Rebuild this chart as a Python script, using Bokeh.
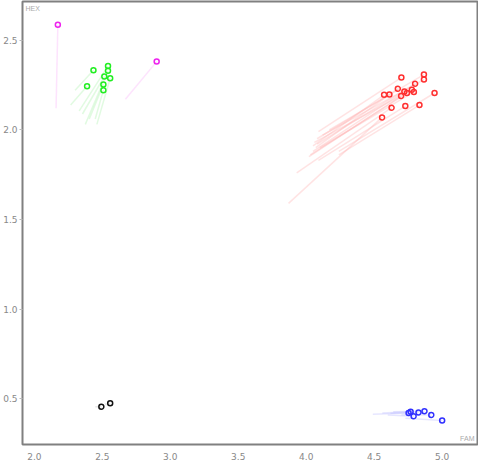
from bokeh.plotting import figure
from bokeh.models import Range1d, FixedTicker, Label, ColumnDataSource, NumeralTickFormatter
from bokeh.embed import file_html
from bokeh.resources import INLINE

# --- data (FAM, HEX) : current point and trail start ---
red_x = [4.700, 4.866, 4.866, 4.801, 4.674, 4.722, 4.741, 4.777, 4.792, 4.698, 4.573, 4.612, 4.944, 4.628, 4.729, 4.833, 4.558]
red_y = [2.291, 2.308, 2.280, 2.257, 2.229, 2.214, 2.205, 2.223, 2.211, 2.188, 2.195, 2.197, 2.205, 2.123, 2.132, 2.138, 2.069]
red_x0 = [4.09, 4.17, 4.12, 4.08, 4.07, 4.05, 4.03, 4.06, 4.10, 4.02, 4.05, 4.08, 4.24, 3.93, 4.09, 4.24, 3.87]
red_y0 = [1.99, 2.00, 1.97, 1.92, 1.90, 1.88, 1.86, 1.93, 1.90, 1.85, 1.91, 1.95, 1.88, 1.76, 1.83, 1.86, 1.59]

green_x = [2.435, 2.388, 2.542, 2.542, 2.515, 2.558, 2.508, 2.508]
green_y = [2.332, 2.242, 2.355, 2.329, 2.297, 2.287, 2.253, 2.221]
green_x0 = [2.30, 2.267, 2.33, 2.375, 2.354, 2.46, 2.404, 2.448]
green_y0 = [2.22, 2.138, 2.105, 2.03, 2.088, 2.03, 2.06, 2.06]

blue_x = [4.753, 4.768, 4.790, 4.826, 4.870, 4.920, 5.000]
blue_y = [0.421, 0.428, 0.404, 0.425, 0.432, 0.411, 0.380]
blue_x0 = [4.49, 4.56, 4.60, 4.62, 4.64, 4.70, 4.73]
blue_y0 = [0.415, 0.422, 0.410, 0.420, 0.428, 0.412, 0.392]

magenta_x = [2.173, 2.900]
magenta_y = [2.585, 2.380]
magenta_x0 = [2.16, 2.67]
magenta_y0 = [2.12, 2.17]

black_x = [2.493, 2.558]
black_y = [0.457, 0.476]
black_x0 = [2.448, 2.52]
black_y0 = [0.457, 0.470]

x_ticks = [2.0, 2.5, 3.0, 3.5, 4.0, 4.5, 5.0]
y_ticks = [0.5, 1.0, 1.5, 2.0, 2.5]
x_label = "FAM"
y_label = "HEX"

groups = [
    (red_x, red_y, red_x0, red_y0, "#ff3030", "#ffb0b0"),
    (green_x, green_y, green_x0, green_y0, "#22ee22", "#aaf0aa"),
    (blue_x, blue_y, blue_x0, blue_y0, "#3030ff", "#b8b8ff"),
    (magenta_x, magenta_y, magenta_x0, magenta_y0, "#ee22ee", "#f8b0f8"),
    (black_x, black_y, black_x0, black_y0, "#111111", "#bbbbbb"),
]

p = figure(width=478, height=462, output_backend="svg", toolbar_location=None,
           x_range=Range1d(1.913, 5.26), y_range=Range1d(0.246, 2.715),
           min_border_top=1, min_border_right=1, min_border_bottom=0, min_border_left=0)

p.xgrid.visible = False
p.ygrid.visible = False
p.outline_line_color = "#808080"
p.outline_line_width = 2
p.background_fill_color = "white"
p.border_fill_color = "white"

for ax in (p.xaxis[0], p.yaxis[0]):
    ax.axis_line_color = None
    ax.minor_tick_line_color = None
    ax.major_label_text_color = "#888888"
    ax.major_label_text_font_size = "9px"
    ax.major_label_text_font = "DejaVu Sans"
    ax.major_tick_line_color = "#bbbbbb"
    ax.major_tick_in = 0
    ax.formatter = NumeralTickFormatter(format="0.0")

p.xaxis[0].ticker = FixedTicker(ticks=x_ticks)
p.yaxis[0].ticker = FixedTicker(ticks=y_ticks)
p.xaxis[0].major_tick_out = 0
p.xaxis[0].major_label_standoff = 8
p.yaxis[0].major_tick_out = 3
p.yaxis[0].major_label_standoff = 2

for xs, ys, x0s, y0s, col, light in groups:
    src = ColumnDataSource(dict(x=xs, y=ys, x0=x0s, y0=y0s))
    p.segment(x0="x0", y0="y0", x1="x", y1="y", source=src,
              line_color=light, line_alpha=0.35, line_width=1.5)
    p.scatter(x="x", y="y", source=src, marker="circle", size=5,
              fill_color=None, line_color=col, line_width=1.5)

p.add_layout(Label(x=1.913, y=2.715, x_offset=3, y_offset=-3, text=y_label,
                   text_font_size="7px", text_color="#aaaaaa",
                   text_baseline="top", text_align="left"))
p.add_layout(Label(x=5.26, y=0.246, x_offset=-3, y_offset=3, text=x_label,
                   text_font_size="7px", text_color="#aaaaaa",
                   text_baseline="bottom", text_align="right"))

open("out.html", "w").write(file_html(p, INLINE))
